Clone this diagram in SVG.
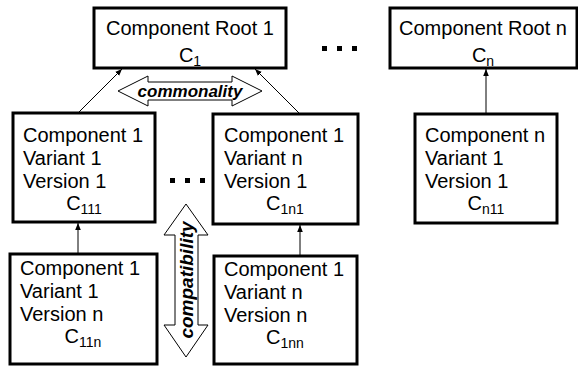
<svg xmlns="http://www.w3.org/2000/svg" width="578" height="367" viewBox="0 0 578 367">
<defs>
<style>
.box{fill:#fff;stroke:#000;stroke-width:3}
.t{font-family:"Liberation Sans",Arial,sans-serif;font-size:20px;fill:#000}
.s{font-size:14px}
.lbl{font-family:"Liberation Sans",Arial,sans-serif;font-size:17px;font-weight:bold;font-style:italic;fill:#000}
.ln{stroke:#000;stroke-width:1;fill:none}
.dbl{fill:#fff;stroke:#000;stroke-width:1}
</style>
<marker id="ah" viewBox="0 0 10 10" refX="10" refY="5" markerWidth="7" markerHeight="7" orient="auto" markerUnits="userSpaceOnUse">
<path d="M0,1 L10,5 L0,9 z" fill="#000"/>
</marker>
</defs>
<rect width="578" height="367" fill="#fff"/>
<g id="connectors">
<line class="ln" x1="78" y1="113" x2="122" y2="69" marker-end="url(#ah)"/>
<line class="ln" x1="300" y1="114" x2="255" y2="69" marker-end="url(#ah)"/>
<line class="ln" x1="486" y1="114" x2="486" y2="69" marker-end="url(#ah)"/>
<line class="ln" x1="78" y1="254" x2="78" y2="223" marker-end="url(#ah)"/>
<line class="ln" x1="300" y1="256" x2="300" y2="225" marker-end="url(#ah)"/>
<polygon class="dbl" points="118,91 148,76 148,82 232,82 232,76 262,91 232,106 232,100 148,100 148,106"/>
<text class="lbl" x="190" y="97" text-anchor="middle">commonality</text>
<polygon class="dbl" points="186,204 208,235 198,235 198,325 208,325 186,357 164,325 175,325 175,235 164,235"/>
<text class="lbl" transform="translate(193,280) rotate(-90)" text-anchor="middle" style="font-size:19px">compatibility</text>
<g fill="#000">
<rect x="322" y="46" width="5" height="5"/><rect x="337" y="46" width="5" height="5"/><rect x="352" y="46" width="5" height="5"/>
<rect x="170" y="178" width="5" height="5"/><rect x="185" y="178" width="5" height="5"/><rect x="200" y="178" width="5" height="5"/>
</g>
</g>
<g id="root1">
<rect class="box" x="94" y="8" width="192" height="60"/>
<text class="t" x="190" y="35" text-anchor="middle">Component Root 1</text>
<text class="t" x="190" y="62" text-anchor="middle">C<tspan class="s" dy="4">1</tspan></text>
</g>
<g id="rootn">
<rect class="box" x="390" y="8" width="187" height="60"/>
<text class="t" x="483" y="35" text-anchor="middle">Component Root n</text>
<text class="t" x="483" y="62" text-anchor="middle">C<tspan class="s" dy="4">n</tspan></text>
</g>
<g id="c111">
<rect class="box" x="13" y="113" width="142" height="109"/>
<text class="t" x="23" y="142">Component 1</text>
<text class="t" x="23" y="165">Variant 1</text>
<text class="t" x="23" y="188">Version 1</text>
<text class="t" x="84" y="210" text-anchor="middle">C<tspan class="s" dy="4">111</tspan></text>
</g>
<g id="c1n1">
<rect class="box" x="213" y="114" width="145" height="110"/>
<text class="t" x="224" y="142">Component 1</text>
<text class="t" x="224" y="165">Variant n</text>
<text class="t" x="224" y="188">Version 1</text>
<text class="t" x="285" y="210" text-anchor="middle">C<tspan class="s" dy="4">1n1</tspan></text>
</g>
<g id="cn11">
<rect class="box" x="415" y="114" width="142" height="109"/>
<text class="t" x="425" y="142">Component n</text>
<text class="t" x="425" y="165">Variant 1</text>
<text class="t" x="425" y="188">Version 1</text>
<text class="t" x="486" y="210" text-anchor="middle">C<tspan class="s" dy="4">n11</tspan></text>
</g>
<g id="c11n">
<rect class="box" x="10" y="254" width="147" height="110"/>
<text class="t" x="20" y="275">Component 1</text>
<text class="t" x="20" y="298">Variant 1</text>
<text class="t" x="20" y="321">Version n</text>
<text class="t" x="83" y="343" text-anchor="middle">C<tspan class="s" dy="4">11n</tspan></text>
</g>
<g id="c1nn">
<rect class="box" x="214" y="256" width="143" height="108"/>
<text class="t" x="224" y="276">Component 1</text>
<text class="t" x="224" y="299">Variant n</text>
<text class="t" x="224" y="322">Version n</text>
<text class="t" x="285" y="344" text-anchor="middle">C<tspan class="s" dy="4">1nn</tspan></text>
</g>
</svg>
